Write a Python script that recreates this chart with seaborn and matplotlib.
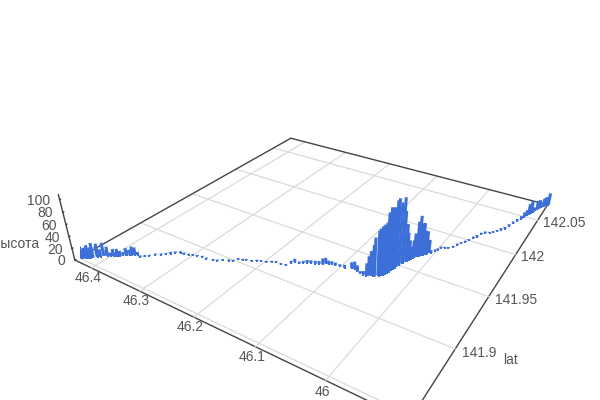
import matplotlib
matplotlib.use("Agg")
import matplotlib.pyplot as plt
import seaborn as sns

lat = [141.849, 141.849, 141.851, 141.851, 141.852, 141.853, 141.853, 141.854, 141.855, 141.857, 141.857, 141.858, 141.860,
       141.861, 141.861, 141.862, 141.863, 141.864, 141.864, 141.865, 141.867, 141.868, 141.868, 141.869, 141.870, 141.871,
       141.872, 141.871, 141.873, 141.875, 141.878, 141.880, 141.882, 141.884, 141.886, 141.888, 141.888, 141.889, 141.890,
       141.891, 141.892, 141.892, 141.893, 141.894, 141.896, 141.898, 141.899, 141.902, 141.903, 141.904, 141.905, 141.907,
       141.908, 141.909, 141.911, 141.912, 141.912, 141.913, 141.917, 141.919, 141.919, 141.921, 141.922, 141.923, 141.924,
       141.925, 141.926, 141.928, 141.928, 141.929, 141.929, 141.930, 141.930, 141.932, 141.932, 141.931, 141.930, 141.930,
       141.930, 141.931, 141.932, 141.932, 141.932, 141.934, 141.934, 141.935, 141.936, 141.938, 141.939, 141.941, 141.943,
       141.945, 141.946, 141.948, 141.950, 141.953, 141.954, 141.956, 141.957, 141.959, 141.960, 141.962, 141.963, 141.965,
       141.966, 141.967, 141.968, 141.970, 141.970, 141.973, 141.973, 141.977, 141.979, 141.982, 141.983, 141.984, 141.987,
       141.991, 141.994, 141.997, 142.000, 142.004, 142.007, 142.012, 142.015, 142.016, 142.018, 142.021, 142.024, 142.027,
       142.032, 142.037, 142.042, 142.046, 142.050, 142.053, 142.055, 142.058, 142.060, 142.063, 142.065, 142.068, 142.070,
       142.073, 142.075, 142.075, 142.076]
lon = [46.435, 46.433, 46.433, 46.430, 46.428, 46.425, 46.423, 46.422, 46.420, 46.417, 46.415, 46.412, 46.411,
       46.407, 46.405, 46.401, 46.398, 46.395, 46.392, 46.389, 46.388, 46.384, 46.382, 46.378, 46.376, 46.373,
       46.370, 46.362, 46.358, 46.353, 46.348, 46.341, 46.336, 46.331, 46.326, 46.320, 46.313, 46.306, 46.300,
       46.293, 46.285, 46.277, 46.266, 46.260, 46.254, 46.246, 46.240, 46.236, 46.230, 46.225, 46.217, 46.211,
       46.205, 46.197, 46.191, 46.185, 46.176, 46.169, 46.166, 46.163, 46.155, 46.151, 46.146, 46.141, 46.135,
       46.130, 46.125, 46.123, 46.118, 46.114, 46.108, 46.102, 46.094, 46.085, 46.080, 46.074, 46.068, 46.063,
       46.058, 46.056, 46.054, 46.050, 46.048, 46.045, 46.043, 46.041, 46.039, 46.038, 46.037, 46.036, 46.035,
       46.034, 46.033, 46.033, 46.031, 46.030, 46.029, 46.027, 46.026, 46.025, 46.023, 46.022, 46.021, 46.019,
       46.017, 46.015, 46.013, 46.012, 46.009, 46.008, 46.005, 46.002, 46.000, 45.998, 45.993, 45.988, 45.983,
       45.980, 45.977, 45.973, 45.970, 45.966, 45.963, 45.960, 45.956, 45.950, 45.946, 45.942, 45.938, 45.934,
       45.931, 45.928, 45.925, 45.921, 45.919, 45.917, 45.915, 45.913, 45.911, 45.910, 45.908, 45.906, 45.904,
       45.902, 45.901, 45.899, 45.896]
height = [19, 26, 19, 15, 18, 22, 13, 18, 25, 18, 23, 13, 22,
          10, 16, 6, 12, 6, 13, 9, 5, 12, 9, 10, 15, 13,
          5, 3, 2, 2, 2, 2, 2, 3, 3, 3, 3, 2, 2,
          2, 2, 2, 2, 2, 2, 2, 2, 2, 2, 2, 2, 2,
          2, 2, 2, 2, 2, 2, 3, 5, 3, 3, 5, 5, 5,
          5, 10, 9, 6, 5, 5, 3, 5, 10, 13, 10, 4, 6,
          21, 32, 40, 51, 64, 73, 77, 80, 82, 83, 98, 104, 102,
          100, 110, 111, 103, 108, 86, 63, 48, 33, 22, 30, 41, 59,
          68, 55, 55, 40, 40, 22, 5, 2, 2, 2, 2, 2, 2,
          2, 2, 2, 2, 3, 3, 2, 2, 2, 2, 2, 3, 3,
          3, 3, 3, 5, 8, 9, 19, 22, 8, 5, 16, 15, 5,
          13, 13, 15, 22]

lat_ticks = [141.85, 141.9, 141.95, 142, 142.05]
lon_ticks = [46, 46.1, 46.2, 46.3, 46.4]
height_ticks = [0, 20, 40, 60, 80, 100]

lat_range = (141.847, 142.076)
lon_range = (45.897, 46.437)

sns.set_theme(style="white")
plt.rcParams['font.family'] = ['Liberation Sans', 'DejaVu Sans']

blue = sns.color_palette(['#3d6fd9'])[0]
text_grey = '#555555'
edge_grey = '#444444'
grid_grey = '#dadada'

fig = plt.figure(figsize=(6, 4), dpi=100)
# square axes, larger than the figure: the front of the floor runs off the bottom
ax = fig.add_axes([80.06 / 600, -49.55 / 400, 485.67 / 600, 485.67 / 400], projection='3d', computed_zorder=False)
ax.set_proj_type('persp', focal_length=0.225)
ax.view_init(28.912, -147.485)
ax.set_box_aspect((1, 1, 0.202))
ax.set_xlim(*lat_range)
ax.set_ylim(*lon_range)
ax.set_zlim(0, 108)
ax.set_facecolor('white')
ax.grid(False)

for axis in (ax.xaxis, ax.yaxis, ax.zaxis):
    axis.set_pane_color((1, 1, 1, 0))
    axis.pane.set_edgecolor((1, 1, 1, 0))
    axis.line.set_color(edge_grey)
    axis.line.set_linewidth(1.0)
    axis._axinfo['tick']['inward_factor'] = 0
    axis._axinfo['tick']['outward_factor'] = 0

ax.zaxis._axinfo['tick']['outward_factor'] = 0.03

ax.set_xticks(lat_ticks, [f"{t:g}" for t in lat_ticks])
ax.set_yticks(lon_ticks, [f"{t:g}" for t in lon_ticks])
ax.set_zticks(height_ticks, [str(t) for t in height_ticks])
ax.tick_params(labelsize=10, labelcolor=text_grey, color=edge_grey, width=0.8)
ax.tick_params(axis='x', pad=-5)
ax.tick_params(axis='y', pad=-6)
ax.tick_params(axis='z', pad=-5)
for label in ax.get_xticklabels():
    label.set_ha('left')
    label.set_va('center')
for label in ax.get_zticklabels():
    label.set_ha('right')
    label.set_va('center')

fig.text(511 / 600, 1 - 360 / 400, 'lat', fontsize=10, color=text_grey, ha='center', va='center')
fig.text(39.5 / 600, 1 - 244 / 400, 'высота', fontsize=10, color=text_grey, ha='right', va='center')

# floor grid only, and the two back edges of the box
for t in lat_ticks:
    ax.plot([t, t], lon_range, [0, 0], color=grid_grey, lw=0.9, zorder=1)
for t in lon_ticks:
    ax.plot(lat_range, [t, t], [0, 0], color=grid_grey, lw=0.9, zorder=1)
ax.plot([lat_range[1], lat_range[1]], lon_range, [0, 0], color=edge_grey, lw=1.0, zorder=2)
ax.plot(lat_range, [lon_range[1], lon_range[1]], [0, 0], color=edge_grey, lw=1.0, zorder=2)

for x, y, z in zip(lat, lon, height):
    ax.plot([x, x], [y, y], [0, z], color=blue, lw=2.2, solid_capstyle='butt', zorder=3)
ax.scatter(lat, lon, [0] * len(lat), color=blue, s=3.5, marker='s', linewidths=0, depthshade=False, zorder=4)

fig.savefig('out.png', dpi=100)
